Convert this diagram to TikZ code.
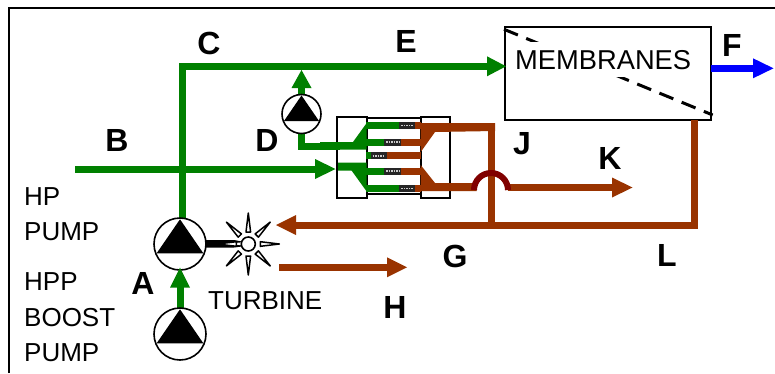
\documentclass[tikz,border=0pt]{standalone}
\usepackage{fontspec}
\setmainfont{Liberation Sans}
\definecolor{grn}{RGB}{0,128,0}
\definecolor{brn}{RGB}{153,51,0}
\definecolor{dred}{RGB}{128,0,0}
\definecolor{blu}{RGB}{0,0,255}
\newcommand{\lab}[3]{\node[biglabel] (lab#3) at (#1,#2) {#3};}
\newcommand{\pumpsym}[4]{% name, x, y, r
  \node[pumpdisc, minimum size=#4*2pt] (#1) at (#2,#3) {};
  \fill[black] (#2,#3-0.95*#4) -- (#2+0.9*#4,#3+0.36*#4) -- (#2-0.9*#4,#3+0.36*#4) -- cycle;
}
\newcommand{\coil}[3]{% x0, x1, yc
  \fill[black!85] (#1,#3-3.5) rectangle (#2,#3+3.5);
  \draw[white!80!black, line width=1.6pt, dash pattern=on 1.6pt off 0.9pt] (#1+2,#3) -- (#2-2,#3);
}
\newcommand{\spike}[1]{%
  \begin{scope}[shift={(248.3,244)}, rotate=#1]
    \draw[black, fill=white, line width=1.5pt, line join=round] (12,-2.3) -- (31,0) -- (12,2.3) -- cycle;
  \end{scope}
}
\tikzset{
  x=1pt, y=-1pt,
  pipe/.style={line width=7pt},
  greenpipe/.style={pipe, grn},
  brownpipe/.style={pipe, brn},
  pumpdisc/.style={circle, draw=black, fill=white, line width=1.6pt, inner sep=0pt},
  biglabel/.style={font=\fontsize{32}{32}\selectfont\bfseries, inner sep=0pt},
  plainlabel/.style={font=\fontsize{26}{26}\selectfont, inner sep=0pt, anchor=west},
  boxline/.style={draw=black, line width=1.8pt},
}
\begin{document}
\begin{tikzpicture}
\useasboundingbox (0,0) rectangle (775,373);
\fill[white] (0,0) rectangle (775,373);
\coordinate (frameA) at (9,373);
\coordinate (frameB) at (9,7.5);
\coordinate (frameC) at (775,7.5);
\draw[black, line width=2pt] (frameA) -- (frameB) -- (frameC);

% exchanger boxes
\node[boxline, fill=white, minimum width=54pt, minimum height=76pt, inner sep=0pt] (mid) at (394,156) {};
\node[boxline, fill=white, minimum width=30pt, minimum height=81pt, inner sep=0pt] (lbox) at (352.3,157.2) {};
\node[boxline, fill=white, minimum width=29.5pt, minimum height=81pt, inner sep=0pt] (rbox) at (435.5,157.2) {};

% membranes
\node[boxline, fill=white, minimum width=206pt, minimum height=93.3pt, inner sep=0pt] (memb) at (608.3,73.3) {};
\coordinate (dashA) at (504,29.3);
\coordinate (dashB) at (712.7,115);
\draw[black, line width=3pt, dash pattern=on 15pt off 9pt] (dashA) -- (dashB);
\fill[white] (512,41.7) rectangle (700,77);
\node[font=\fontsize{27.3}{27.3}\selectfont, inner sep=0pt, anchor=west] (membtext) at (515,60) {MEMBRANES};

% green lines
\coordinate (Ca) at (182,222);
\coordinate (Cb) at (182,66.3);
\coordinate (Cc) at (490,66.3);
\draw[greenpipe, line join=miter] (Ca) -- (Cb) -- (Cc);
\fill[grn] (506,66.3) -- (487,56.3) -- (487,76.3) -- cycle;

\coordinate (Ba) at (75,169);
\coordinate (Bb) at (318,169);
\draw[greenpipe] (Ba) -- (Bb);
\fill[grn] (335.5,169) -- (315,159) -- (315,179) -- cycle;

% pump D
\coordinate (Da) at (301.5,146);
\draw[greenpipe] (340,146) -- (Da) -- (301.5,130);
\draw[greenpipe] (301.5,100) -- (301.5,86);
\fill[grn] (301.5,70) -- (291.5,88) -- (311.5,88) -- cycle;
\pumpsym{pumpD}{301.5}{114}{19.5}

% exchanger green
\fill[grn] (320,142) -- (353,142) -- (366.7,123) -- (366.7,149.7) -- (320,149.7) -- cycle;
\fill[grn] (338,162.5) -- (366.7,162.5) -- (366.7,191.5) -- (351.7,170.7) -- (338,170.7) -- cycle;
\fill[grn] (366,122) rectangle (399.5,129);
\fill[grn] (366,138.5) rectangle (384.5,145.5);
\fill[grn] (366,152.2) rectangle (371,159.2);
\fill[grn] (366,167.5) rectangle (384.5,174.5);
\fill[grn] (366,184.8) rectangle (399.5,191.8);

% brown in exchanger
\fill[brn] (414,122) rectangle (421,129);
\fill[brn] (400.5,138.5) rectangle (421,145.5);
\fill[brn] (386,152.2) rectangle (421,159.2);
\fill[brn] (400.5,167.5) rectangle (421,174.5);
\fill[brn] (414,184.8) rectangle (421,191.8);
\coil{399.3}{414.7}{125.5}
\coil{384}{401}{142}
\coil{370.7}{386.7}{155.7}
\coil{384}{401}{171}
\coil{399.3}{414.7}{188.3}
\fill[brn] (420.7,123) -- (495,123) -- (495,131) -- (435,132) -- (420.7,152) -- cycle;
\fill[brn] (420.7,165) -- (435,183) -- (476.7,183) -- (476.7,191) -- (420.7,191) -- cycle;

% brown pipes
\coordinate (Ja) at (491.7,124);
\coordinate (Jb) at (491.7,225);
\draw[brownpipe] (Ja) -- (Jb);
\coordinate (Ka) at (508,187.5);
\coordinate (Kb) at (615,187.5);
\draw[brownpipe] (Ka) -- (Kb);
\fill[brn] (632.5,187.5) -- (612,177.5) -- (612,197.5) -- cycle;
\draw[dred, line width=6pt] (474,190) arc[start angle=180, end angle=360, radius=17];

\coordinate (La) at (694,120);
\coordinate (Lb) at (694,225);
\coordinate (Lc) at (295,225);
\draw[brownpipe, line join=miter] (La) -- (Lb) -- (Lc);
\fill[brn] (276,225) -- (296,215) -- (296,235) -- cycle;

\coordinate (Ha) at (279,267.3);
\coordinate (Hb) at (390,267.3);
\draw[brownpipe] (Ha) -- (Hb);
\fill[brn] (407,267.3) -- (387,257.3) -- (387,277.3) -- cycle;

% F
\coordinate (Fa) at (711,68.3);
\coordinate (Fb) at (755,68.3);
\draw[blu, line width=7pt] (Fa) -- (Fb);
\fill[blu] (773.5,68.3) -- (753,58.3) -- (753,78.3) -- cycle;

% pumps A, boost
\draw[greenpipe] (180,285) -- (180,312);
\pumpsym{pumpA}{180}{244}{26}
\pumpsym{pumpB}{180}{334}{26}
\fill[grn] (180,267.7) -- (170,287.7) -- (190,287.7) -- cycle;

% turbine
\fill[black] (206,240) -- (234,240) -- (242,241.5) -- (242,246.5) -- (234,247.5) -- (206,247.5) -- cycle;
\fill[white] (228,243.7) -- (242,242.3) -- (242,245.3) -- cycle;
\foreach \a in {0,45,...,315} {\spike{\a}}
\node[circle, draw=black, fill=white, line width=1.6pt, minimum size=14pt, inner sep=0pt] (turb) at (248.3,244) {};

% labels
\lab{209}{43}{C}
\lab{406}{41}{E}
\lab{117}{140}{B}
\lab{267}{140}{D}
\lab{732}{45}{F}
\lab{522}{144}{J}
\lab{610}{158}{K}
\lab{455}{256}{G}
\lab{667}{255}{L}
\lab{143}{283}{A}
\lab{395}{307}{H}
\node[plainlabel] (t1) at (24,197) {HP};
\node[plainlabel] (t2) at (24,232) {PUMP};
\node[plainlabel] (t3) at (24,282) {HPP};
\node[plainlabel] (t4) at (24,318) {BOOST};
\node[plainlabel] (t5) at (24,353) {PUMP};
\node[plainlabel] (t6) at (208,301) {TURBINE};
\end{tikzpicture}
\end{document}
